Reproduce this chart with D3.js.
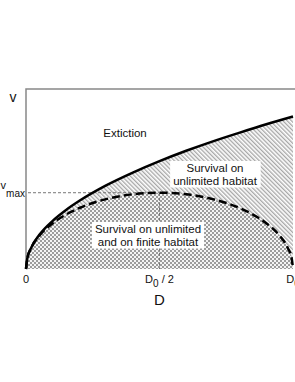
<!DOCTYPE html>
<html>
<head>
<meta charset="utf-8">
<script src="https://cdn.jsdelivr.net/npm/d3@7"></script>
<style>
body { margin: 0; background: #fff; }
text { font-family: "Liberation Sans", Arial, sans-serif; fill: #111; }
</style>
</head>
<body>
<div class="vizHolder"></div>
<script>
var width = 295,
    height = 382;

// population density D (fraction of D0) and speed v
var dUnlimited = [0, 0.005, 0.02, 0.05, 0.1, 0.15, 0.2, 0.3, 0.4, 0.5, 0.6, 0.7, 0.8, 0.9, 1.0];
var vUnlimited = [0, 0.071, 0.141, 0.224, 0.316, 0.387, 0.447, 0.548, 0.632, 0.707, 0.775, 0.837, 0.894, 0.949, 1.0];

var dFinite = [0, 0.005, 0.02, 0.05, 0.1, 0.15, 0.2, 0.3, 0.4, 0.5, 0.6, 0.7, 0.8, 0.85, 0.9, 0.95, 0.98, 0.995, 1.0];
var vFinite = [0, 0.070, 0.140, 0.218, 0.300, 0.357, 0.400, 0.458, 0.490, 0.500, 0.490, 0.458, 0.400, 0.357, 0.300, 0.218, 0.140, 0.070, 0];

var vMax = 0.5,
    dHalf = 0.5;

var xTicks = [0, 0.5, 1],
    xTickLabels = [["0", ""], ["D", "0", " / 2"], ["D", "0", ""]];

var svg = d3.select('.vizHolder')
            .append('svg')
            .attr('width', width)
            .attr('height', height);

var x = d3.scaleLinear().domain([0, 1]).range([26, 293]);
var y = d3.scaleLinear().domain([0, 1.18]).range([269, 89]);

var defs = svg.append('defs');

// diagonal hatch
var hatch = defs.append('pattern')
                .attr('id', 'hatch')
                .attr('patternUnits', 'userSpaceOnUse')
                .attr('width', 3)
                .attr('height', 3)
                .attr('patternTransform', 'rotate(-45)');
hatch.append('rect').attr('width', 3).attr('height', 3).attr('fill', '#fff');
hatch.append('line')
     .attr('x1', 0.75).attr('y1', 0).attr('x2', 0.75).attr('y2', 3)
     .attr('stroke', '#8a8a8a').attr('stroke-width', 1);

// fine checker
var checker = defs.append('pattern')
                  .attr('id', 'checker')
                  .attr('patternUnits', 'userSpaceOnUse')
                  .attr('width', 4)
                  .attr('height', 4);
checker.append('rect').attr('width', 4).attr('height', 4).attr('fill', '#f4f4f4');
checker.append('rect').attr('width', 2).attr('height', 2).attr('fill', '#9c9c9c');
checker.append('rect').attr('x', 2).attr('y', 2).attr('width', 2).attr('height', 2).attr('fill', '#9c9c9c');

var unlimited = dUnlimited.map(function(d, i){ return [d, vUnlimited[i]]; });
var finite = dFinite.map(function(d, i){ return [d, vFinite[i]]; });

var area = d3.area()
             .x(function(d){ return x(d[0]); })
             .y0(y(0))
             .y1(function(d){ return y(d[1]); })
             .curve(d3.curveMonotoneX);

var line = d3.line()
             .x(function(d){ return x(d[0]); })
             .y(function(d){ return y(d[1]); })
             .curve(d3.curveMonotoneX);

svg.append('path').datum(unlimited).attr('d', area).attr('fill', 'url(#hatch)');
svg.append('path').datum(finite).attr('d', area).attr('fill', 'url(#checker)');

// guide lines for v_max and D0/2
svg.append('line')
   .attr('x1', x(0) + 2).attr('x2', x(dHalf))
   .attr('y1', y(vMax)).attr('y2', y(vMax))
   .attr('stroke', '#777').attr('stroke-width', 1)
   .attr('stroke-dasharray', '3,2');
svg.append('line')
   .attr('x1', x(dHalf)).attr('x2', x(dHalf))
   .attr('y1', y(vMax)).attr('y2', y(0))
   .attr('stroke', '#777').attr('stroke-width', 1)
   .attr('stroke-dasharray', '3,2');

// frame: left and top
svg.append('path')
   .attr('d', 'M' + x(0) + ',' + y(0) + 'V' + y(1.18) + 'H' + (width + 5))
   .attr('fill', 'none')
   .attr('stroke', '#888')
   .attr('stroke-width', 1.5);

svg.append('path').datum(unlimited).attr('d', line)
   .attr('fill', 'none').attr('stroke', '#000').attr('stroke-width', 2.5);
svg.append('path').datum(finite).attr('d', line)
   .attr('fill', 'none').attr('stroke', '#000').attr('stroke-width', 2.5)
   .attr('stroke-dasharray', '8,4');

// label boxes
function boxLabel(cx, cy, lines, fs){
    var g = svg.append('g');
    var bg = g.append('rect').attr('fill', '#fff');
    var t = g.append('text')
             .attr('text-anchor', 'middle')
             .attr('font-size', fs);
    lines.forEach(function(s, i){
        t.append('tspan').attr('x', cx).attr('y', cy + i * 12.5).text(s);
    });
    var b = t.node().getBBox();
    bg.attr('x', b.x - 3).attr('y', b.y - 1).attr('width', b.width + 6).attr('height', b.height + 2);
}

svg.append('text')
   .attr('x', 125).attr('y', 137)
   .attr('text-anchor', 'middle')
   .attr('font-size', 11.5)
   .text('Extiction');

boxLabel(215, 172, ['Survival on', 'unlimited habitat'], 11.5);
boxLabel(148, 233, ['Survival on unlimited', 'and on finite habitat'], 11.5);

// x tick labels
xTicks.forEach(function(d, i){
    var lab = xTickLabels[i];
    var t = svg.append('text')
               .attr('x', x(d))
               .attr('y', 283)
               .attr('text-anchor', 'middle')
               .attr('font-size', 11);
    t.append('tspan').text(lab[0]);
    if (lab.length > 2) {
        t.append('tspan').attr('dy', 4).attr('font-size', 10).text(lab[1]);
        t.append('tspan').attr('dy', -4).text(lab[2]);
    }
});

// axis titles
svg.append('text')
   .attr('x', x(dHalf)).attr('y', 305)
   .attr('text-anchor', 'middle')
   .attr('font-size', 15)
   .text('D');

svg.append('text')
   .attr('x', 13).attr('y', 102)
   .attr('text-anchor', 'middle')
   .attr('font-size', 14)
   .text('v');

var vm = svg.append('text')
            .attr('x', 25).attr('y', 189)
            .attr('text-anchor', 'end')
            .attr('font-size', 11);
vm.append('tspan').text('v');
vm.append('tspan').attr('dy', 8).attr('font-size', 10).text('max');
</script>
</body>
</html>
